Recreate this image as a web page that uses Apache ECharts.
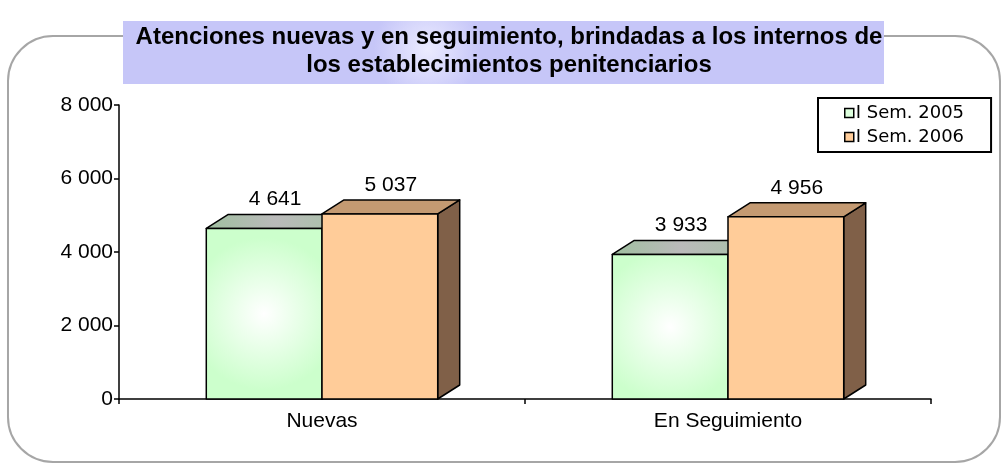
<!DOCTYPE html>
<html>
<head>
<meta charset="utf-8">
<script src="https://cdn.jsdelivr.net/npm/echarts@6/dist/echarts.min.js"></script>
<style>
  html, body { margin: 0; padding: 0; background: #fff; }
  #chart { width: 1003px; height: 464px; }
</style>
</head>
<body>
<div id="chart"></div>
<script>
var categories = ['Nuevas', 'En Seguimiento'];
var seriesNames = ['I Sem. 2005', 'I Sem. 2006'];
var sem2005 = [4641, 3933];
var sem2006 = [5037, 4956];
var yTicks = [0, 2000, 4000, 6000, 8000];

var chart = echarts.init(document.getElementById('chart'));

// "4641" -> "4 641"
function fmt(v) {
    return String(v).replace(/\B(?=(\d{3})+(?!\d))/g, ' ');
}

var greenFront = {
    type: 'radial', x: 0.5, y: 0.5, r: 0.65,
    colorStops: [{ offset: 0, color: '#ffffff' }, { offset: 1, color: '#ccffcc' }]
};
var greenTop = {
    type: 'linear', x: 0, y: 0, x2: 1, y2: 0,
    colorStops: [{ offset: 0, color: '#9fbf9f' }, { offset: 0.5, color: '#bababa' }, { offset: 1, color: '#a8c2a8' }]
};

// pseudo 3d bar: front + top + side, k = slot in the category
function make3d(k, front, top, side) {
    return function (params, api) {
        var idx = api.value(0);
        var val = api.value(1);
        var base = api.coord([idx, 0]);
        var head = api.coord([idx, val]);
        var band = api.size([1, 0])[0];
        var w = band * 0.285;
        var x0 = base[0] - w + k * w;
        var x1 = x0 + w;
        var yb = base[1], yt = head[1];
        var dx = 22, dy = 14;
        var st = { stroke: '#000', lineWidth: 1.5, lineJoin: 'round' };
        return {
            type: 'group',
            children: [
                { type: 'polygon', shape: { points: [[x1, yt], [x1 + dx, yt - dy], [x1 + dx, yb - dy], [x1, yb]] },
                  style: Object.assign({ fill: side }, st) },
                { type: 'polygon', shape: { points: [[x0, yt], [x0 + dx, yt - dy], [x1 + dx, yt - dy], [x1, yt]] },
                  style: Object.assign({ fill: top }, st) },
                { type: 'rect', shape: { x: x0, y: yt, width: w, height: yb - yt },
                  style: Object.assign({ fill: front }, st) },
                { type: 'text', style: { text: fmt(val), x: (x0 + x1) / 2 + dx / 2, y: yt - dy - 15,
                  align: 'center', verticalAlign: 'middle', fill: '#000',
                  font: '21px "Liberation Sans", Arial, sans-serif' } }
            ]
        };
    };
}

var option = {
    animation: false,
    backgroundColor: '#fff',
    graphic: [
        { type: 'rect', z: 1, shape: { x: 8, y: 36, width: 992, height: 426, r: 45 },
          style: { fill: 'none', stroke: '#a6a6a6', lineWidth: 2 } },
        { type: 'rect', z: 2, shape: { x: 123, y: 21, width: 761, height: 63 },
          style: { fill: { type: 'radial', x: 0.4, y: 0.45, r: 0.85,
              colorStops: [{ offset: 0, color: '#ebebff' }, { offset: 1, color: '#c6c6f8' }] } } }
    ],
    title: {
        text: 'Atenciones nuevas y en seguimiento, brindadas a los internos de\nlos establecimientos penitenciarios',
        left: 504,
        top: 18,
        textAlign: 'center',
        z: 10,
        textStyle: {
            fontFamily: '"Liberation Sans", Arial, sans-serif',
            fontWeight: 'bold',
            fontSize: 24,
            lineHeight: 28,
            color: '#000'
        }
    },
    legend: {
        data: seriesNames,
        orient: 'vertical',
        left: 818,
        top: 98,
        padding: [6, 27, 6, 26],
        itemGap: 6,
        itemWidth: 9,
        itemHeight: 9,
        icon: 'rect',
        borderColor: '#000',
        borderWidth: 2,
        backgroundColor: '#fff',
        itemStyle: { borderColor: '#000', borderWidth: 1.5 },
        textStyle: { fontFamily: '"DejaVu Sans", Verdana, sans-serif', fontSize: 18, color: '#000', padding: [0, 0, 0, -3] }
    },
    grid: { left: 119, right: 72, top: 105, bottom: 65 },
    xAxis: {
        type: 'category',
        data: categories,
        axisLine: { lineStyle: { color: '#000', width: 1.5 } },
        axisTick: { show: true, length: 5, lineStyle: { color: '#000', width: 1.5 } },
        axisLabel: { color: '#000', fontSize: 21, margin: 12, fontFamily: '"Liberation Sans", Arial, sans-serif' }
    },
    yAxis: {
        type: 'value',
        min: yTicks[0],
        max: yTicks[yTicks.length - 1],
        interval: yTicks[1] - yTicks[0],
        axisLine: { show: true, lineStyle: { color: '#000', width: 1.5 } },
        axisTick: { show: true, length: 5, lineStyle: { color: '#000', width: 1.5 } },
        splitLine: { show: false },
        axisLabel: { color: '#000', fontSize: 21, margin: 6, fontFamily: '"Liberation Sans", Arial, sans-serif',
            formatter: function (v) { return fmt(v); } }
    },
    series: [
        {
            name: seriesNames[0],
            type: 'custom',
            renderItem: make3d(0, greenFront, greenTop, '#7fa07f'),
            itemStyle: { color: '#ddffdd', borderColor: '#000' },
            encode: { x: 0, y: 1 },
            data: sem2005.map(function (v, i) { return [i, v]; }),
            z: 3
        },
        {
            name: seriesNames[1],
            type: 'custom',
            renderItem: make3d(1, '#ffcc99', '#c49a72', '#806048'),
            itemStyle: { color: '#ffcc99', borderColor: '#000' },
            encode: { x: 0, y: 1 },
            data: sem2006.map(function (v, i) { return [i, v]; }),
            z: 4
        }
    ]
};

chart.setOption(option);
</script>
</body>
</html>
